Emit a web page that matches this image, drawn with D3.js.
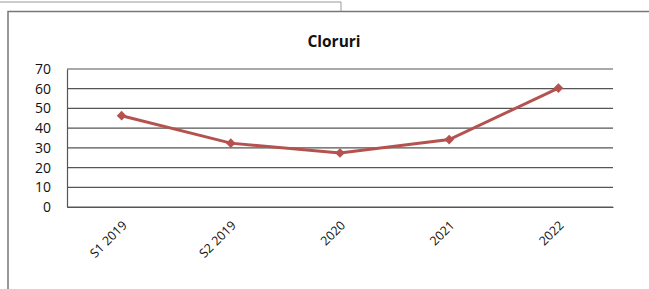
<!DOCTYPE html>
<html>
<head>
<meta charset="utf-8">
<script src="https://cdn.jsdelivr.net/npm/d3@7"></script>
<style>
  body { margin: 0; background: #fff; }
  text { font-family: "Open Sans", "Liberation Sans", sans-serif; fill: #111; }
</style>
</head>
<body>
<div id="chart"></div>
<script>
// data
var categories = ["S1 2019", "S2 2019", "2020", "2021", "2022"];
var values = [46.3, 32.4, 27.4, 34.2, 60.3];
var yTicks = [0, 10, 20, 30, 40, 50, 60, 70];

var W = 649, H = 289;
var margin = {top: 69, right: 36, bottom: 82, left: 67},
    width = W - margin.left - margin.right,
    height = H - margin.top - margin.bottom;

var root = d3.select("#chart").append("svg")
    .attr("width", W)
    .attr("height", H);

// scanned page frame
root.append("path")
    .attr("d", "M8," + H + " V11.5 H" + W)
    .attr("fill", "none")
    .attr("stroke", "#777")
    .attr("stroke-width", 1.5);
root.append("path")
    .attr("d", "M0,2 H341 V11")
    .attr("fill", "none")
    .attr("stroke", "#999")
    .attr("stroke-width", 1);

root.append("text")
    .attr("x", 334)
    .attr("y", 47)
    .attr("text-anchor", "middle")
    .style("font-size", "15.5px")
    .style("font-weight", "bold")
    .text("Cloruri");

var svg = root.append("g")
    .attr("transform", "translate(" + margin.left + "," + margin.top + ")");

var x = d3.scaleBand()
    .domain(categories)
    .range([0, width]);

var y = d3.scaleLinear()
    .domain([0, 70])
    .range([height, 0]);

// gridlines
svg.append("g")
  .selectAll("line")
  .data(yTicks)
  .enter().append("line")
    .attr("x1", 0)
    .attr("x2", width)
    .attr("y1", function(d) { return y(d); })
    .attr("y2", function(d) { return y(d); })
    .attr("stroke", "#555")
    .attr("stroke-width", 1.2);

// y axis
var yAxis = svg.append("g")
    .call(d3.axisLeft(y).tickValues(yTicks).tickSize(0).tickPadding(16));
yAxis.select(".domain").attr("stroke", "#555").attr("stroke-width", 1.2);
yAxis.selectAll("text").style("font-size", "14px").attr("fill", "#111");

// x axis
var xAxis = svg.append("g")
    .attr("transform", "translate(0," + height + ")")
    .call(d3.axisBottom(x).tickSize(0).tickPadding(0));
xAxis.select(".domain").attr("stroke", "#555").attr("stroke-width", 1.2);
xAxis.selectAll("text")
    .style("font-size", "12.5px")
    .attr("fill", "#111")
    .attr("text-anchor", "end")
    .attr("y", 0)
    .attr("dy", "0.35em")
    .attr("transform", "translate(3,16) rotate(-45)");

// line
var line = d3.line()
    .x(function(d, i) { return x(categories[i]) + x.bandwidth() / 2; })
    .y(function(d) { return y(d); });

svg.append("path")
    .datum(values)
    .attr("d", line)
    .attr("fill", "none")
    .attr("stroke", "#b5524f")
    .attr("stroke-width", 3);

svg.append("g")
  .selectAll("path")
  .data(values)
  .enter().append("path")
    .attr("d", d3.symbol().type(d3.symbolDiamond2).size(60))
    .attr("transform", function(d, i) {
      return "translate(" + (x(categories[i]) + x.bandwidth() / 2) + "," + y(d) + ")";
    })
    .attr("fill", "#b5524f");
</script>
</body>
</html>
